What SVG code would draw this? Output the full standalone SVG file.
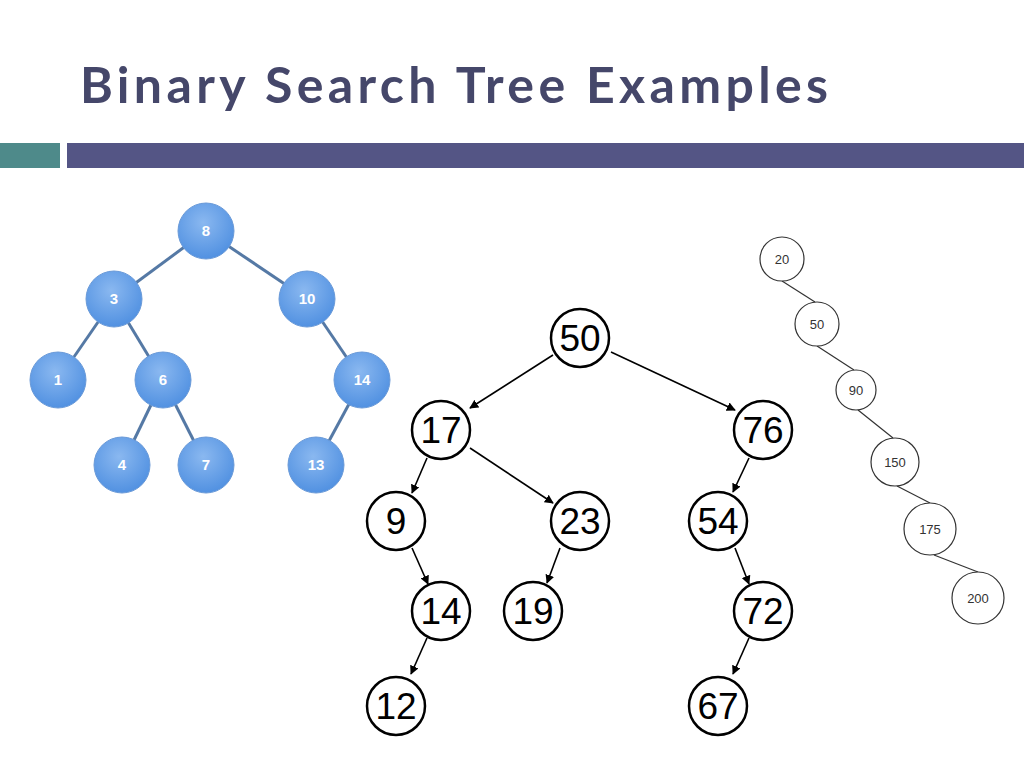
<svg xmlns="http://www.w3.org/2000/svg" width="1024" height="768" viewBox="0 0 1024 768">
<style>
.t{font-family:Lato,"Liberation Sans",sans-serif;font-weight:bold;font-size:50px;fill:#45476a}
.bn circle{fill:url(#bg);stroke:#6a9ad8;stroke-width:1}
.bn text{font-family:"Liberation Sans",sans-serif;font-weight:bold;font-size:15px;fill:#fff;text-anchor:middle}
.be line{stroke:#5579a5;stroke-width:3}
.mn circle{fill:#fff;stroke:#000;stroke-width:2.5}
.mn text{font-family:"Liberation Sans",sans-serif;font-size:37px;fill:#000;text-anchor:middle}
.me line{stroke:#000;stroke-width:1.6;marker-end:url(#ah)}
.rn circle{fill:#fff;stroke:#333;stroke-width:1.2}
.rn text{font-family:"Liberation Sans",sans-serif;font-size:13px;fill:#333;text-anchor:middle}
.re line{stroke:#333;stroke-width:1.2}
</style>
<defs>
<radialGradient id="bg" cx="0.45" cy="0.35" r="0.7"><stop offset="0" stop-color="#8ab8f0"/><stop offset="1" stop-color="#4d8ee0"/></radialGradient>
<marker id="ah" viewBox="0 0 10 10" refX="9" refY="5" markerWidth="9" markerHeight="9" markerUnits="userSpaceOnUse" orient="auto"><path d="M0,0 L10,5 L0,10 z" fill="#000"/></marker>
</defs>
<rect width="1024" height="768" fill="#fff"/>
<text class="t" x="80" y="103" textLength="748">Binary Search Tree Examples</text>
<rect x="0" y="143" width="60" height="25" fill="#4e8a8a"/>
<rect x="67" y="143" width="957" height="25" fill="#545585"/>
<g class="be">
<line x1="206" y1="231" x2="114" y2="299"/><line x1="206" y1="231" x2="307" y2="299"/>
<line x1="114" y1="299" x2="58" y2="380"/><line x1="114" y1="299" x2="163" y2="380"/>
<line x1="307" y1="299" x2="362" y2="380"/><line x1="163" y1="380" x2="122" y2="465"/>
<line x1="163" y1="380" x2="206" y2="465"/><line x1="362" y1="380" x2="316" y2="465"/>
</g>
<g class="bn">
<g id="b8"><circle cx="206" cy="231" r="28"/><text x="206" y="236">8</text></g>
<g id="b3"><circle cx="114" cy="299" r="28"/><text x="114" y="304">3</text></g>
<g id="b10"><circle cx="307" cy="299" r="28"/><text x="307" y="304">10</text></g>
<g id="b1"><circle cx="58" cy="380" r="28"/><text x="58" y="385">1</text></g>
<g id="b6"><circle cx="163" cy="380" r="28"/><text x="163" y="385">6</text></g>
<g id="b14"><circle cx="362" cy="380" r="28"/><text x="362" y="385">14</text></g>
<g id="b4"><circle cx="122" cy="465" r="28"/><text x="122" y="470">4</text></g>
<g id="b7"><circle cx="206" cy="465" r="28"/><text x="206" y="470">7</text></g>
<g id="b13"><circle cx="316" cy="465" r="28"/><text x="316" y="470">13</text></g>
</g>
<g class="me">
<line x1="553" y1="355" x2="470" y2="408"/><line x1="611" y1="352" x2="735" y2="410"/>
<line x1="427" y1="458" x2="412" y2="493"/><line x1="470" y1="448" x2="553" y2="503"/>
<line x1="749" y1="458" x2="733" y2="492"/><line x1="412" y1="548" x2="428" y2="584"/>
<line x1="560" y1="548" x2="547" y2="583"/><line x1="735" y1="548" x2="749" y2="584"/>
<line x1="427" y1="638" x2="411" y2="674"/><line x1="749" y1="638" x2="733" y2="674"/>
</g>
<g class="mn">
<g id="m50"><circle cx="580" cy="338" r="29"/><text x="580" y="351">50</text></g>
<g id="m17"><circle cx="441" cy="430" r="29"/><text x="441" y="443">17</text></g>
<g id="m76"><circle cx="763" cy="430" r="29"/><text x="763" y="443">76</text></g>
<g id="m9"><circle cx="396" cy="521" r="29"/><text x="396" y="534">9</text></g>
<g id="m23"><circle cx="580" cy="521" r="29"/><text x="580" y="534">23</text></g>
<g id="m54"><circle cx="718" cy="521" r="29"/><text x="718" y="534">54</text></g>
<g id="m14"><circle cx="441" cy="611" r="29"/><text x="441" y="624">14</text></g>
<g id="m19"><circle cx="533" cy="611" r="29"/><text x="533" y="624">19</text></g>
<g id="m72"><circle cx="763" cy="611" r="29"/><text x="763" y="624">72</text></g>
<g id="m12"><circle cx="396" cy="706" r="29"/><text x="396" y="719">12</text></g>
<g id="m67"><circle cx="718" cy="706" r="29"/><text x="718" y="719">67</text></g>
</g>
<g class="re">
<line x1="782" y1="281" x2="815" y2="302"/><line x1="817" y1="346" x2="854" y2="370"/>
<line x1="858" y1="410" x2="893" y2="438"/><line x1="897" y1="486" x2="930" y2="503"/>
<line x1="934" y1="555" x2="978" y2="572"/>
</g>
<g class="rn">
<g id="r20"><circle cx="782" cy="259" r="22"/><text x="782" y="264">20</text></g>
<g id="r50"><circle cx="817" cy="324" r="22"/><text x="817" y="329">50</text></g>
<g id="r90"><circle cx="856" cy="390" r="20"/><text x="856" y="395">90</text></g>
<g id="r150"><circle cx="895" cy="462" r="24"/><text x="895" y="467">150</text></g>
<g id="r175"><circle cx="930" cy="529" r="26"/><text x="930" y="534">175</text></g>
<g id="r200"><circle cx="978" cy="598" r="26"/><text x="978" y="603">200</text></g>
</g>
</svg>
